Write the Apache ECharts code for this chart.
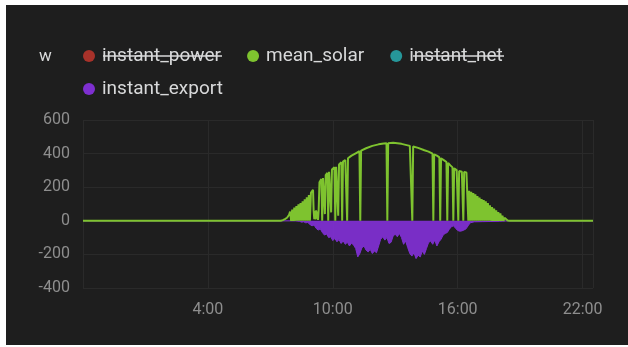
<!DOCTYPE html>
<html>
<head>
<meta charset="utf-8">
<script src="https://cdn.jsdelivr.net/npm/echarts@6/dist/echarts.min.js"></script>
<style>
  html, body { margin: 0; padding: 0; background: #ffffff; }
  #chart { position: absolute; left: 6px; top: 5px; width: 622px; height: 340px; background: #1e1e1e; }
</style>
</head>
<body>
<div id="chart"></div>
<script>
// series names, in legend order (first row, second row)
var legendRow1 = ['instant_power', 'mean_solar', 'instant_net']
var legendRow2 = ['instant_export']

// x ticks are hours of the day; the range starts 22:00 the day before
var hourTicks = [4, 10, 16, 22]

// mean_solar, [hour, W]
var meanSolar = [
  [-2, 0], [7.5, 0], [7.6, 4], [7.7, 10], [7.8, 18], [7.9, 35],
  [7.95, 55], [8.0, 0], [8.05, 66], [8.1, 0], [8.15, 78], [8.2, 0], [8.25, 88], [8.3, 0],
  [8.35, 98], [8.4, 0], [8.45, 106], [8.5, 0], [8.55, 116], [8.6, 0], [8.65, 128], [8.7, 0],
  [8.75, 140], [8.8, 0], [8.85, 153], [8.9, 0], [8.95, 166], [9.0, 175],
  [9.05, 185], [9.08, 60], [9.11, 10], [9.14, 58], [9.17, 8], [9.2, 62], [9.23, 12], [9.26, 55],
  [9.29, 5], [9.32, 60], [9.36, 230], [9.4, 240],
  [9.45, 248], [9.49, 0], [9.53, 255], [9.58, 262], [9.62, 40], [9.66, 272], [9.7, 280], [9.74, 285],
  [9.78, 0], [9.82, 292], [9.88, 298], [9.92, 50], [9.96, 305], [10.08, 318], [10.12, 0], [10.16, 322],
  [10.22, 328], [10.26, 30], [10.3, 335], [10.41, 348], [10.45, 0], [10.49, 352], [10.6, 362],
  [10.66, 368], [10.69, 0], [10.73, 372],
  [10.9, 388], [11.1, 402], [11.28, 414], [11.32, 0], [11.36, 418], [11.6, 432], [11.9, 446],
  [12.2, 455], [12.45, 460], [12.58, 462], [12.62, 0], [12.66, 462], [12.9, 465], [13.1, 462],
  [13.3, 458], [13.5, 452], [13.7, 446], [13.78, 444], [13.82, 0], [13.86, 442], [14.1, 434],
  [14.4, 420], [14.6, 412], [14.79, 400], [14.83, 0], [14.87, 396], [15.0, 388], [15.12, 378],
  [15.16, 0], [15.2, 372], [15.35, 360], [15.46, 350], [15.5, 0], [15.54, 344], [15.65, 330],
  [15.75, 318], [15.79, 0], [15.83, 312], [15.95, 302], [15.99, 298], [16.03, 0], [16.07, 296],
  [16.2, 292], [16.23, 290], [16.27, 0], [16.31, 290], [16.42, 288], [16.47, 285], [16.51, 0],
  [16.55, 178], [16.6, 0], [16.65, 172], [16.7, 0], [16.75, 165], [16.8, 0], [16.85, 158], [16.9, 0],
  [16.95, 148], [17.0, 0], [17.05, 138], [17.1, 0], [17.15, 130], [17.2, 0], [17.25, 124], [17.3, 0],
  [17.35, 116], [17.4, 0], [17.45, 106], [17.5, 0], [17.55, 92], [17.6, 0], [17.65, 82], [17.7, 0],
  [17.75, 72], [17.8, 0], [17.85, 62], [17.9, 0], [17.95, 52], [18.0, 0], [18.05, 44], [18.1, 0],
  [18.15, 30], [18.2, 0], [18.25, 18], [18.3, 8], [18.4, 2], [18.5, 0], [22.5, 0]
]

// instant_export, [hour, W]
var instantExport = [
  [-2, 0], [8.2, 0], [8.4, -3], [8.5, -8], [8.6, -6], [8.7, -12], [8.8, -10], [8.9, -22],
  [9.0, -30], [9.1, -25], [9.2, -45], [9.3, -55], [9.4, -48], [9.5, -70], [9.6, -85], [9.7, -78],
  [9.8, -100], [9.9, -95], [10.0, -118], [10.1, -105], [10.2, -125], [10.3, -112], [10.4, -135],
  [10.5, -120], [10.6, -140], [10.7, -128], [10.8, -150], [10.9, -132], [11.0, -145], [11.1, -165],
  [11.2, -215], [11.3, -195], [11.4, -160], [11.5, -150], [11.6, -175], [11.7, -185], [11.8, -170],
  [11.9, -195], [12.0, -180], [12.1, -190], [12.2, -150], [12.3, -110], [12.4, -95], [12.5, -115],
  [12.6, -100], [12.7, -135], [12.8, -128], [12.9, -90], [13.0, -80], [13.1, -95], [13.2, -75],
  [13.3, -100], [13.4, -140], [13.5, -120], [13.6, -160], [13.7, -195], [13.8, -210], [13.9, -190],
  [14.0, -225], [14.1, -205], [14.2, -215], [14.3, -180], [14.4, -200], [14.5, -165], [14.6, -130],
  [14.7, -120], [14.8, -140], [14.9, -115], [15.0, -150], [15.1, -125], [15.2, -110], [15.3, -85],
  [15.4, -75], [15.5, -70], [15.6, -50], [15.7, -35], [15.8, -30], [15.9, -45], [16.0, -58],
  [16.1, -62], [16.2, -60], [16.3, -55], [16.4, -48], [16.5, -30], [16.6, -12], [16.8, -6],
  [17.2, -5], [17.6, -4], [18.0, -3], [18.3, -1], [18.4, 0], [22.5, 0]
]

var colors = {
  instant_power: '#a8322a',
  mean_solar: '#7ec32f',
  instant_net: '#26979a',
  instant_export: '#7e2fd0'
}

var legendText = { color: '#d8d9da', fontSize: 19, lineHeight: 20 }

var chart = echarts.init(document.getElementById('chart'))

chart.setOption({
  animation: false,
  textStyle: { fontFamily: 'Roboto' },
  title: {
    text: 'w',
    left: 28,
    top: 38,
    textStyle: { color: '#d8d9da', fontSize: 17, fontWeight: 'normal' }
  },
  legend: [
    {
      data: legendRow1, left: 72, top: 36, icon: 'circle',
      itemWidth: 16, itemHeight: 12, itemGap: 26, selectedMode: false, textStyle: legendText
    },
    {
      data: legendRow2, left: 72, top: 69, icon: 'circle',
      itemWidth: 16, itemHeight: 12, itemGap: 26, selectedMode: false, textStyle: legendText
    }
  ],
  grid: { left: 77, right: 35, top: 115, bottom: 57 },
  xAxis: {
    type: 'value',
    min: -2,
    max: 22.5,
    interval: 6,
    axisLine: { show: false },
    axisTick: { show: false },
    axisLabel: {
      color: '#8e8e8e',
      fontSize: 16,
      margin: 14,
      formatter: function (v) {
        return hourTicks.indexOf(v) >= 0 ? v + ':00' : ''
      }
    },
    splitLine: { lineStyle: { color: '#2a2a2a' } }
  },
  yAxis: {
    type: 'value',
    min: -400,
    max: 600,
    interval: 200,
    axisLine: { show: false },
    axisTick: { show: false },
    axisLabel: { color: '#8e8e8e', fontSize: 16, margin: 13 },
    splitLine: { lineStyle: { color: '#2a2a2a' } }
  },
  graphic: [
    // strike-through on the hidden series names
    { type: 'line', z: 100, shape: { x1: 97, y1: 51, x2: 216, y2: 51 }, style: { stroke: '#d8d9da', lineWidth: 1.4 } },
    { type: 'line', z: 100, shape: { x1: 407, y1: 51, x2: 498, y2: 51 }, style: { stroke: '#d8d9da', lineWidth: 1.4 } }
  ],
  series: [
    { name: 'instant_power', type: 'line', data: [], color: colors.instant_power, showSymbol: false },
    {
      name: 'mean_solar', type: 'line', z: 4, data: meanSolar, color: colors.mean_solar,
      showSymbol: false, lineStyle: { width: 2 }
    },
    { name: 'instant_net', type: 'line', data: [], color: colors.instant_net, showSymbol: false },
    {
      name: 'instant_export', type: 'line', z: 3, data: instantExport, color: colors.instant_export,
      showSymbol: false, lineStyle: { width: 1 }, areaStyle: { opacity: 0.95 }
    }
  ]
})
</script>
</body>
</html>
